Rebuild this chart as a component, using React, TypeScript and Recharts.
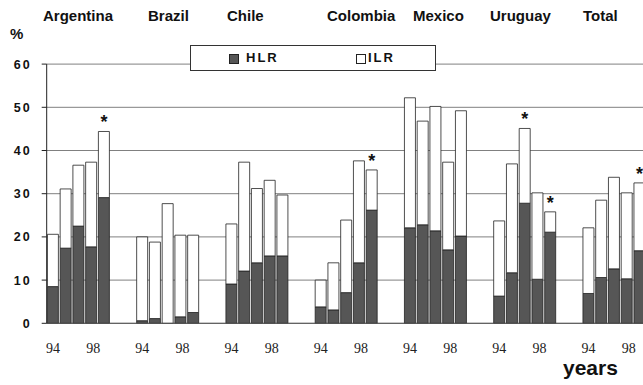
import { BarChart, Bar, XAxis, YAxis, CartesianGrid, LabelList } from "recharts";

const countries = ["Argentina", "Brazil", "Chile", "Colombia", "Mexico", "Uruguay", "Total"];
const years = ["94", "95", "96", "97", "98"];
const yTicks = [0, 10, 20, 30, 40, 50, 60];

// HLR per country, years 94..98
const hlrValues = [
  [8.5, 17.4, 22.5, 17.7, 29.1],
  [0.6, 1.1, 0, 1.5, 2.5],
  [9.1, 12.1, 14.0, 15.6, 15.6],
  [3.8, 3.1, 7.1, 14.0, 26.2],
  [22.1, 22.8, 21.4, 17.0, 20.2],
  [6.3, 11.7, 27.8, 10.2, 21.1],
  [6.9, 10.6, 12.6, 10.3, 16.8],
];

// ILR per country, stacked on top of HLR
const ilrValues = [
  [12.1, 13.7, 14.1, 19.6, 15.3],
  [19.4, 17.7, 27.7, 18.9, 17.9],
  [13.9, 25.2, 17.2, 17.5, 14.1],
  [6.2, 10.9, 16.8, 23.6, 9.3],
  [30.1, 24.0, 28.8, 20.3, 29.0],
  [17.4, 25.2, 17.3, 20.0, 4.7],
  [15.2, 17.9, 21.2, 19.9, 15.7],
];

// bars marked with an asterisk
const starred = [
  [0, 0, 0, 0, 1],
  [0, 0, 0, 0, 0],
  [0, 0, 0, 0, 0],
  [0, 0, 0, 0, 1],
  [0, 0, 0, 0, 0],
  [0, 0, 1, 0, 1],
  [0, 0, 0, 0, 1],
];

const tickYears: Record<number, string> = { 0: "94", 3: "98" };

// flatten into one category axis, two empty slots between countries
const rows: any[] = [];
countries.forEach((c, ci) => {
  years.forEach((yr, yi) => {
    rows.push({
      key: `${c}-${yr}`,
      hlr: hlrValues[ci][yi],
      ilr: ilrValues[ci][yi],
      star: starred[ci][yi] ? "*" : "",
      tick: tickYears[yi] ?? "",
    });
  });
  if (ci < countries.length - 1) {
    rows.push({ key: `gap-${ci}-a`, hlr: null, ilr: null, star: "", tick: "" });
    rows.push({ key: `gap-${ci}-b`, hlr: null, ilr: null, star: "", tick: "" });
  }
});

const tickByKey: Record<string, string> = {};
rows.forEach((r) => (tickByKey[r.key] = r.tick));

const countryLabelX = [43, 148, 227, 327, 413, 490, 583];

const boldSans = '"Liberation Sans", Arial, sans-serif';

export default function App() {
  return (
    <div
      style={{
        position: "fixed",
        left: 0,
        top: 0,
        width: 643,
        height: 385,
        overflow: "hidden",
        background: "#fff",
        fontFamily: boldSans,
      }}
    >
      <BarChart
        width={656}
        height={385}
        data={rows}
        margin={{ top: 64.1, right: 10, bottom: 31.7, left: 0 }}
        barCategoryGap={0.7}
      >
        <CartesianGrid vertical={false} stroke="#808080" strokeWidth={1} />
        <XAxis
          dataKey="key"
          interval={0}
          height={30}
          axisLine={{ stroke: "#555" }}
          tickLine={false}
          tick={({ x, y, payload }: any) => {
            const label = tickByKey[payload.value];
            if (!label) return <g />;
            return (
              <text
                x={x + (label === "98" ? 2 : 0)}
                y={y}
                dy={22}
                textAnchor="middle"
                fontSize={14}
                fontFamily='"Liberation Serif", "Times New Roman", serif'
                fill="#222"
              >
                {label}
              </text>
            );
          }}
        />
        <YAxis
          width={46.7}
          domain={[0, 60]}
          ticks={yTicks}
          interval={0}
          axisLine={{ stroke: "#222" }}
          tickLine={{ stroke: "#222" }}
          tickSize={5}
          tickMargin={10}
          tick={{ fontSize: 12.5, fontWeight: "bold", fill: "#111", letterSpacing: 2, fontFamily: boldSans }}
        />
        <Bar dataKey="hlr" stackId="a" fill="#565656" stroke="#222" strokeWidth={0.8} isAnimationActive={false} />
        <Bar dataKey="ilr" stackId="a" fill="#ffffff" stroke="#222" strokeWidth={0.8} isAnimationActive={false}>
          <LabelList
            dataKey="star"
            content={({ x, y, width, value }: any) =>
              value ? (
                <text
                  x={Number(x) + Number(width) / 2}
                  y={Number(y) - 3}
                  textAnchor="middle"
                  fontSize={18}
                  fontWeight="bold"
                  fill="#111"
                  fontFamily={boldSans}
                >
                  {value}
                </text>
              ) : null
            }
          />
        </Bar>
      </BarChart>

      {countries.map((c, i) => (
        <div
          key={c}
          style={{
            position: "absolute",
            left: countryLabelX[i],
            top: 7,
            fontSize: 15,
            fontWeight: "bold",
            color: "#111",
            whiteSpace: "nowrap",
          }}
        >
          {c}
        </div>
      ))}

      <div style={{ position: "absolute", left: 10, top: 25, fontSize: 15, fontWeight: "bold", color: "#111" }}>%</div>

      <div
        style={{
          position: "absolute",
          left: 190,
          top: 45,
          width: 244,
          height: 24,
          background: "#fff",
          border: "1px solid #333",
          fontSize: 13,
          fontWeight: "bold",
          letterSpacing: 2,
          color: "#111",
        }}
      >
        <div style={{ position: "absolute", left: 38, top: 8, width: 8, height: 8, background: "#565656", border: "1px solid #222" }} />
        <div style={{ position: "absolute", left: 55, top: 4 }}>HLR</div>
        <div style={{ position: "absolute", left: 165, top: 8, width: 8, height: 8, background: "#fff", border: "1px solid #222" }} />
        <div style={{ position: "absolute", left: 177, top: 4 }}>ILR</div>
      </div>

      <div style={{ position: "absolute", left: 563, top: 356, fontSize: 21, fontWeight: "bold", color: "#111" }}>years</div>
    </div>
  );
}
